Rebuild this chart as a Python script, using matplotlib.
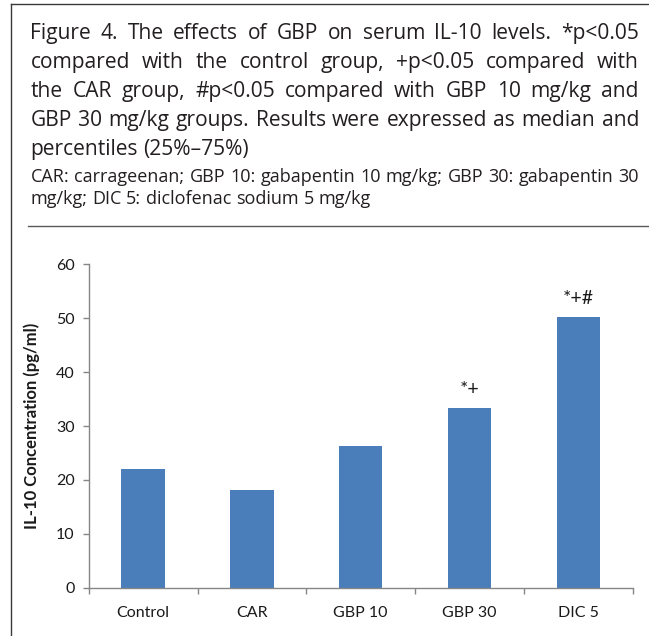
import matplotlib
matplotlib.use("Agg")
import matplotlib.pyplot as plt
import numpy as np

# data
groups = ["Control", "CAR", "GBP 10", "GBP 30", "DIC 5"]
il10 = [22.1, 18.1, 26.3, 33.4, 50.3]
marks = ["", "", "", "*+", "*+#"]
yticks = [0, 10, 20, 30, 40, 50, 60]

caption = [
    "Figure 4. The effects of GBP on serum IL-10 levels. *p<0.05",
    "compared with the control group, +p<0.05 compared with",
    "the CAR group, #p<0.05 compared with GBP 10 mg/kg and",
    "GBP 30 mg/kg groups. Results were expressed as median and",
    "percentiles (25%\u201375%)",
]
notes = [
    "CAR: carrageenan; GBP 10: gabapentin 10 mg/kg; GBP 30: gabapentin 30",
    "mg/kg; DIC 5: diclofenac sodium 5 mg/kg",
]

W, H = 649, 636
fig = plt.figure(figsize=(W / 100, H / 100), dpi=100)
renderer = fig.canvas.get_renderer()
txt_col = "#231f20"


def put_line(words, x0, x1, y, size, family, justify):
    # lay words out one by one so the line can be justified like the print
    ts = [fig.text(0, 0, w, fontsize=size, family=family, color=txt_col,
                   va="baseline", ha="left") for w in words]
    ws = [t.get_window_extent(renderer).width for t in ts]
    space = 0.26 * size * 100 / 72
    if justify and len(words) > 1:
        gap = (x1 - x0 - sum(ws)) / (len(words) - 1)
    else:
        gap = space
    x = x0
    for t, w in zip(ts, ws):
        t.set_position((x / W, 1 - y / H))
        x += w + gap


def fit_size(lines, size, family, avail):
    # shrink the font if a justified line would not fit
    worst = 0
    for ln in lines:
        t = fig.text(0, 0, ln, fontsize=size, family=family)
        worst = max(worst, t.get_window_extent(renderer).width)
        t.remove()
    if worst > avail:
        size = size * avail / worst * 0.99
    return size


cap_font = "Open Sans"
x_left, x_right = 30.5, 639
big = fit_size(caption[:-1], 15.6, cap_font, x_right - x_left)
for i, ln in enumerate(caption):
    put_line(ln.split(" "), x_left, x_right, 39 + 29 * i, big, cap_font,
             justify=i < len(caption) - 1)

small = fit_size(notes[:1], 13.1, cap_font, x_right - x_left)
for i, ln in enumerate(notes):
    put_line(ln.split(" "), x_left, x_right, 181.5 + 23 * i, small, cap_font,
             justify=i == 0)

# frame lines of the printed figure box
fig.add_artist(plt.Line2D([11 / W, 11 / W], [0, 1 - 4.3 / H], color="#3a3a3a",
                          lw=1.0, transform=fig.transFigure))
fig.add_artist(plt.Line2D([11 / W, 1], [1 - 4.3 / H, 1 - 4.3 / H], color="#3a3a3a",
                          lw=1.0, transform=fig.transFigure))
fig.add_artist(plt.Line2D([28 / W, 1], [1 - 226 / H, 1 - 226 / H], color="#5a5a5a",
                          lw=1.0, transform=fig.transFigure))

# bar chart
ax = fig.add_axes([88.7 / W, (H - 587.7) / H, 544 / W, 323.4 / H])
xpos = np.arange(len(groups))
ax.bar(xpos, il10, width=0.4, color="#4a7ebb", zorder=2)
ax.set_xlim(-0.5, len(groups) - 0.5)
ax.set_ylim(0, 60)
ax.set_yticks(yticks)
ax.set_xticks(xpos, groups)
ax.set_xticks(np.arange(-0.5, len(groups), 1), minor=True)

chart_font = "Lato"
for lab in ax.get_xticklabels() + ax.get_yticklabels():
    lab.set_family(chart_font)
    lab.set_fontsize(11.5)
    lab.set_color("#1a1a1a")
ax.tick_params(axis="x", which="major", length=0, pad=13)
ax.tick_params(axis="x", which="minor", length=4, width=1, color="#868686",
               direction="out")
ax.tick_params(axis="y", length=4, width=1, color="#868686", pad=6)

for s in ["top", "right"]:
    ax.spines[s].set_visible(False)
for s in ["left", "bottom"]:
    ax.spines[s].set_color("#868686")
    ax.spines[s].set_linewidth(1.0)

ax.set_ylabel("IL-10 Concentration (pg/ml)", family=chart_font, fontsize=12,
              fontweight="bold", color="#1a1a1a")
ax.yaxis.set_label_coords((40 - 88.7) / 544, 0.5)

for i, (v, m) in enumerate(zip(il10, marks)):
    if m:
        ax.annotate(m, (i, v), xytext=(0, 10), textcoords="offset pixels",
                    ha="center", va="bottom", family=chart_font, fontsize=14,
                    color="#1a1a1a")

fig.savefig("out.png", dpi=100)
